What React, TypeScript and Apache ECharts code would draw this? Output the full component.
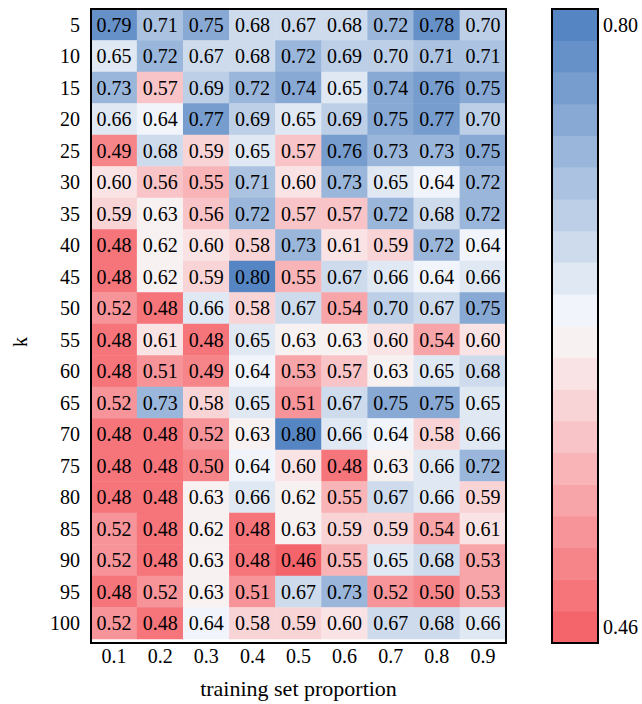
import React, { useEffect, useRef } from "react";
import * as echarts from "echarts";

// training set proportion (columns)
const COLUMNS = ["0.1", "0.2", "0.3", "0.4", "0.5", "0.6", "0.7", "0.8", "0.9"];
// k (rows, top to bottom)
const K_VALUES = ["5", "10", "15", "20", "25", "30", "35", "40", "45", "50", "55", "60", "65", "70", "75", "80", "85", "90", "95", "100"];

// scores, one row per k, one column per proportion
const SCORES: number[][] = [
  [0.79, 0.71, 0.75, 0.68, 0.67, 0.68, 0.72, 0.78, 0.70],
  [0.65, 0.72, 0.67, 0.68, 0.72, 0.69, 0.70, 0.71, 0.71],
  [0.73, 0.57, 0.69, 0.72, 0.74, 0.65, 0.74, 0.76, 0.75],
  [0.66, 0.64, 0.77, 0.69, 0.65, 0.69, 0.75, 0.77, 0.70],
  [0.49, 0.68, 0.59, 0.65, 0.57, 0.76, 0.73, 0.73, 0.75],
  [0.60, 0.56, 0.55, 0.71, 0.60, 0.73, 0.65, 0.64, 0.72],
  [0.59, 0.63, 0.56, 0.72, 0.57, 0.57, 0.72, 0.68, 0.72],
  [0.48, 0.62, 0.60, 0.58, 0.73, 0.61, 0.59, 0.72, 0.64],
  [0.48, 0.62, 0.59, 0.80, 0.55, 0.67, 0.66, 0.64, 0.66],
  [0.52, 0.48, 0.66, 0.58, 0.67, 0.54, 0.70, 0.67, 0.75],
  [0.48, 0.61, 0.48, 0.65, 0.63, 0.63, 0.60, 0.54, 0.60],
  [0.48, 0.51, 0.49, 0.64, 0.53, 0.57, 0.63, 0.65, 0.68],
  [0.52, 0.73, 0.58, 0.65, 0.51, 0.67, 0.75, 0.75, 0.65],
  [0.48, 0.48, 0.52, 0.63, 0.80, 0.66, 0.64, 0.58, 0.66],
  [0.48, 0.48, 0.50, 0.64, 0.60, 0.48, 0.63, 0.66, 0.72],
  [0.48, 0.48, 0.63, 0.66, 0.62, 0.55, 0.67, 0.66, 0.59],
  [0.52, 0.48, 0.62, 0.48, 0.63, 0.59, 0.59, 0.54, 0.61],
  [0.52, 0.48, 0.63, 0.48, 0.46, 0.55, 0.65, 0.68, 0.53],
  [0.48, 0.52, 0.63, 0.51, 0.67, 0.73, 0.52, 0.50, 0.53],
  [0.52, 0.48, 0.64, 0.58, 0.59, 0.60, 0.67, 0.68, 0.66],
];

// discrete colour scale, lowest (red) to highest (blue)
const BAND_COLORS = [
  "#f4656b", "#f5757b", "#f6858a", "#f69499", "#f7a5a8",
  "#f8b4b6", "#f8c4c7", "#f9d4d6", "#fae3e5", "#f8f1f2",
  "#f1f5fb", "#e0e8f3", "#cedbec", "#bdcfe6", "#abc2e0",
  "#9ab6da", "#88a9d4", "#779dce", "#6690c8", "#5585c3",
];
const VMIN = 0.46;
const VMAX = 0.8;
const COLORBAR_TICKS = ["0.46", "0.80"];

const FONT = "'Liberation Serif', 'Times New Roman', serif";

export default function App() {
  const ref = useRef<HTMLDivElement>(null);

  useEffect(() => {
    document.body.style.margin = "0";
    if (!ref.current) return;
    const chart = echarts.init(ref.current, undefined, { renderer: "svg" });

    const n = BAND_COLORS.length;
    const step = (VMAX - VMIN) / (n - 1);
    const r4 = (v: number) => Math.round(v * 10000) / 10000;
    const centers = BAND_COLORS.map((_, i) => r4(VMIN + i * step));
    const pieces = BAND_COLORS.map((color, i) => {
      const p: any = { color };
      if (i > 0) p.gt = r4(VMIN + (i - 0.5) * step);
      if (i < n - 1) p.lte = r4(VMIN + (i + 0.5) * step);
      return p;
    });

    const heatData: any[] = [];
    SCORES.forEach((row, r) => {
      row.forEach((v, c) => heatData.push([c, r, v]));
    });
    const barData = centers.map((v, i) => [0, i, v]);

    const G = { left: 91, top: 9, width: 415, height: 634 };
    const CB = { left: 552, top: 9, width: 46, height: 634 };

    chart.setOption({
      animation: false,
      textStyle: { fontFamily: FONT },
      grid: [
        { ...G, containLabel: false },
        { ...CB, containLabel: false },
      ],
      xAxis: [
        {
          type: "category",
          gridIndex: 0,
          data: COLUMNS,
          axisLine: { show: false },
          axisTick: { show: false },
          splitLine: { show: false },
          axisLabel: { fontSize: 20, color: "#000", margin: 7, fontFamily: FONT },
          name: "training set proportion",
          nameLocation: "middle",
          nameGap: 38,
          nameTextStyle: { fontSize: 22, color: "#000", fontFamily: FONT },
        },
        {
          type: "category",
          gridIndex: 1,
          data: ["cb"],
          show: false,
        },
      ],
      yAxis: [
        {
          type: "category",
          gridIndex: 0,
          data: K_VALUES,
          inverse: true,
          axisLine: { show: false },
          axisTick: { show: false },
          splitLine: { show: false },
          axisLabel: { fontSize: 20, color: "#000", margin: 11, fontFamily: FONT },
        },
        {
          type: "category",
          gridIndex: 1,
          position: "right",
          data: centers.map((c) => c.toFixed(2)),
          axisLine: { show: false },
          axisTick: { show: false },
          splitLine: { show: false },
          axisLabel: {
            fontSize: 20,
            color: "#000",
            margin: 5,
            fontFamily: FONT,
            interval: (i: number) => i === 0 || i === n - 1,
            formatter: (_v: string, i: number) =>
              i === 0 ? COLORBAR_TICKS[0] : i === n - 1 ? COLORBAR_TICKS[1] : "",
          },
        },
      ],
      visualMap: {
        type: "piecewise",
        show: false,
        dimension: 2,
        seriesIndex: [0, 1],
        pieces,
      },
      series: [
        {
          type: "heatmap",
          xAxisIndex: 0,
          yAxisIndex: 0,
          data: heatData,
          label: {
            show: true,
            fontSize: 20,
            color: "#000",
            fontFamily: FONT,
            formatter: (p: any) => Number(p.value[2]).toFixed(2),
          },
          emphasis: { disabled: true },
        },
        {
          type: "heatmap",
          xAxisIndex: 1,
          yAxisIndex: 1,
          data: barData,
          emphasis: { disabled: true },
        },
      ],
      graphic: [
        {
          type: "rect",
          z: 100,
          shape: { x: G.left, y: G.top, width: G.width, height: G.height },
          style: { fill: "none", stroke: "#000", lineWidth: 2 },
        },
        {
          type: "rect",
          z: 100,
          shape: { x: CB.left, y: CB.top, width: CB.width, height: CB.height },
          style: { fill: "none", stroke: "#000", lineWidth: 2 },
        },
        {
          type: "text",
          z: 100,
          x: 20,
          y: 342,
          rotation: Math.PI / 2,
          style: {
            text: "k",
            fontSize: 20,
            fontFamily: FONT,
            fill: "#000",
            align: "center",
            verticalAlign: "middle",
          },
        },
      ],
    });

    return () => chart.dispose();
  }, []);

  return <div ref={ref} style={{ width: 642, height: 704 }} />;
}
